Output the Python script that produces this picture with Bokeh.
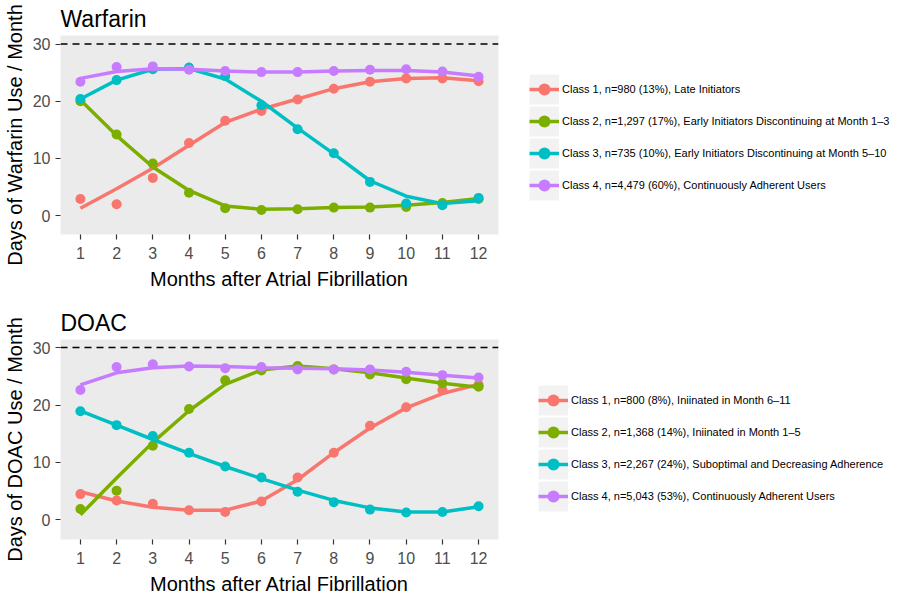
import numpy as np
from bokeh.plotting import figure
from bokeh.models import Range1d, FixedTicker, Span, Legend, LegendItem
from bokeh.layouts import column
from bokeh.embed import file_html
from bokeh.resources import INLINE

# ---------------- data ----------------
months = [1, 2, 3, 4, 5, 6, 7, 8, 9, 10, 11, 12]
y_ticks = [0, 10, 20, 30]
max_days = 30
class_colors = ["#F8766D", "#7CAE00", "#00BFC4", "#C77CFF"]

warfarin_labels = [
    "Class 1, n=980 (13%), Late Initiators",
    "Class 2, n=1,297 (17%), Early Initiators Discontinuing at Month 1\u20133",
    "Class 3, n=735 (10%), Early Initiators Discontinuing at Month 5\u201310",
    "Class 4, n=4,479 (60%), Continuously Adherent Users",
]
# observed monthly means (points)
warf_c1_obs = [2.9, 2.0, 6.6, 12.7, 16.6, 18.3, 20.3, 22.2, 23.4, 24.0, 24.0, 23.5]
warf_c2_obs = [20.0, 14.2, 9.1, 4.0, 1.3, 1.0, 1.1, 1.4, 1.4, 1.5, 2.2, 2.9]
warf_c3_obs = [20.4, 23.7, 25.6, 25.9, 24.4, 19.3, 15.1, 10.9, 5.9, 2.1, 1.8, 3.1]
warf_c4_obs = [23.4, 26.0, 26.1, 25.5, 25.3, 25.1, 25.1, 25.3, 25.5, 25.6, 25.2, 24.3]
# estimated trajectories (lines)
warf_c1_fit = [1.3, 4.7, 8.3, 12.3, 16.3, 18.6, 20.4, 22.2, 23.4, 24.0, 24.1, 23.6]
warf_c2_fit = [20.2, 14.0, 8.5, 4.4, 1.7, 1.1, 1.2, 1.4, 1.5, 1.8, 2.3, 3.0]
warf_c3_fit = [20.4, 23.7, 25.6, 25.7, 23.9, 20.0, 15.3, 10.8, 6.1, 3.4, 2.1, 2.6]
warf_c4_fit = [24.0, 25.2, 25.7, 25.6, 25.3, 25.1, 25.1, 25.3, 25.4, 25.4, 25.1, 24.4]

doac_labels = [
    "Class 1, n=800 (8%), Iniinated in Month 6\u201311",
    "Class 2, n=1,368 (14%), Iniinated in Month 1\u20135",
    "Class 3, n=2,267 (24%), Suboptimal and Decreasing Adherence",
    "Class 4, n=5,043 (53%), Continuously Adherent Users",
]
doac_c1_obs = [4.5, 3.4, 2.8, 1.7, 1.4, 3.2, 7.4, 11.7, 16.4, 19.6, 22.6, 23.5]
doac_c2_obs = [1.9, 5.1, 12.9, 19.3, 24.3, 26.0, 26.8, 26.2, 25.3, 24.5, 23.8, 23.2]
doac_c3_obs = [18.9, 16.5, 14.6, 11.7, 9.3, 7.4, 4.9, 3.1, 1.8, 1.3, 1.4, 2.4]
doac_c4_obs = [22.6, 26.6, 27.1, 26.7, 26.4, 26.6, 26.2, 26.2, 26.2, 25.8, 25.2, 24.8]
doac_c1_fit = [4.9, 3.3, 2.2, 1.7, 1.7, 3.3, 7.0, 11.7, 16.0, 19.5, 22.0, 23.6]
doac_c2_fit = [0.9, 7.3, 13.5, 19.0, 23.6, 26.1, 26.8, 26.3, 25.6, 24.7, 23.8, 23.1]
doac_c3_fit = [19.0, 16.5, 14.0, 11.6, 9.3, 7.2, 5.2, 3.4, 2.1, 1.4, 1.4, 2.3]
doac_c4_fit = [23.5, 25.6, 26.5, 26.8, 26.7, 26.5, 26.4, 26.3, 26.1, 25.7, 25.2, 24.7]

FONT = "Liberation Sans"


def make_panel(title, ylabel, obs, fits, labels, frame_h, b_top, b_bottom, legend_loc, y_range):
    p = figure(frame_width=438, frame_height=frame_h,
               x_range=Range1d(0.45, 12.55), y_range=Range1d(*y_range),
               output_backend="svg", toolbar_location=None,
               min_border_left=50, min_border_right=0,
               min_border_top=b_top, min_border_bottom=b_bottom)
    p.background_fill_color = "#EBEBEB"
    p.border_fill_color = "white"
    p.outline_line_color = None
    p.grid.visible = False

    p.title.text = title
    p.title.text_font = FONT
    p.title.text_font_size = "23px"
    p.title.text_font_style = "normal"
    p.title.text_color = "black"
    p.title.align = "left"
    p.title.standoff = 7

    p.xaxis.ticker = FixedTicker(ticks=months)
    p.yaxis.ticker = FixedTicker(ticks=y_ticks)
    p.xaxis.axis_label = "Months after Atrial Fibrillation"
    p.yaxis.axis_label = ylabel
    for ax in (p.xaxis, p.yaxis):
        ax.axis_line_color = None
        ax.major_tick_line_color = "#333333"
        ax.major_tick_line_width = 1.2
        ax.major_tick_out = 5
        ax.major_tick_in = 0
        ax.minor_tick_line_color = None
        ax.major_label_text_font = FONT
        ax.major_label_text_font_size = "16px"
        ax.major_label_text_color = "#4D4D4D"
        ax.axis_label_text_font = FONT
        ax.axis_label_text_font_size = "20px"
        ax.axis_label_text_font_style = "normal"
        ax.axis_label_text_color = "black"
    p.xaxis.major_label_standoff = 7
    p.xaxis.axis_label_standoff = 6
    p.yaxis.major_label_standoff = 5
    p.yaxis.axis_label_standoff = 4

    p.add_layout(Span(location=max_days, dimension="width", line_color="black",
                      line_dash="7 5", line_width=1.5))

    key_bg = p.line(x=[np.nan], y=[np.nan], line_color="#F2F2F2", line_width=30)
    items = []
    for o, f, c, lab in zip(obs, fits, class_colors, labels):
        ln = p.line(x=months, y=f, line_color=c, line_width=3.5)
        pt = p.scatter(x=months, y=o, size=10, fill_color=c, line_color=None)
        items.append(LegendItem(label=lab, renderers=[key_bg, ln, pt]))

    legend = Legend(items=items, location=legend_loc,
                    glyph_width=30, glyph_height=32, spacing=0, padding=0, margin=0,
                    label_standoff=3, label_height=32,
                    label_text_font=FONT, label_text_font_size="11px",
                    label_text_color="black",
                    border_line_color=None, background_fill_alpha=0)
    p.add_layout(legend, "right")
    return p


p1 = make_panel("Warfarin", "Days of Warfarin Use / Month",
                [warf_c1_obs, warf_c2_obs, warf_c3_obs, warf_c4_obs],
                [warf_c1_fit, warf_c2_fit, warf_c3_fit, warf_c4_fit],
                warfarin_labels, 199, 34, 58, (31, 33), (-3.3, 31.5))
p2 = make_panel("DOAC", "Days of DOAC Use / Month",
                [doac_c1_obs, doac_c2_obs, doac_c3_obs, doac_c4_obs],
                [doac_c1_fit, doac_c2_fit, doac_c3_fit, doac_c4_fit],
                doac_labels, 200, 47, 52, (40, 27), (-3.4, 31.4))

layout = column(p1, p2, spacing=0)
open("out.html", "w").write(file_html(layout, INLINE))
